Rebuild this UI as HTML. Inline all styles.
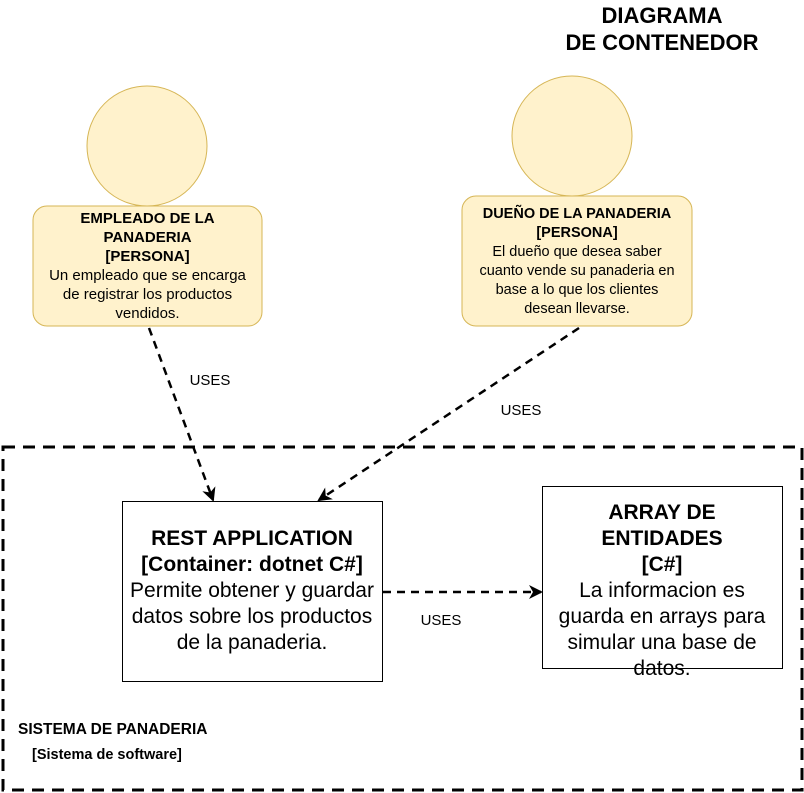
<!DOCTYPE html>
<html><head><meta charset="utf-8"><style>
body{margin:0;width:804px;height:793px;background:#fff;overflow:hidden;position:relative;font-family:"Liberation Sans",Arial,sans-serif}
.t{position:absolute;text-align:center;color:#000;white-space:nowrap}
</style></head><body>
<svg width="804" height="793" style="position:absolute;left:0;top:0">
<defs><marker id="a" markerWidth="14" markerHeight="14" refX="12" refY="7" orient="auto" markerUnits="userSpaceOnUse"><path d="M0,0 L14,7 L0,14 L4,7 Z" fill="#000"/></marker></defs>
<circle cx="147" cy="146" r="60" fill="#fff2cc" stroke="#d6b656"/>
<rect x="33" y="206" width="229" height="120" rx="14" fill="#fff2cc" stroke="#d6b656"/>
<circle cx="572" cy="136" r="60" fill="#fff2cc" stroke="#d6b656"/>
<rect x="462" y="196" width="230" height="130" rx="14" fill="#fff2cc" stroke="#d6b656"/>
<rect x="3" y="447" width="799" height="343" fill="none" stroke="#000" stroke-width="3" stroke-dasharray="12 8"/>
<rect x="122.5" y="501.5" width="260" height="180" fill="#fff" stroke="#000"/>
<rect x="542.5" y="486.5" width="240" height="182" fill="#fff" stroke="#000"/>
<g stroke="#000" stroke-width="2.5" stroke-dasharray="8 6" fill="none">
<line x1="149" y1="328" x2="213" y2="500" marker-end="url(#a)"/>
<line x1="579" y1="328" x2="319" y2="500" marker-end="url(#a)"/>
<line x1="383" y1="592" x2="541" y2="592" marker-end="url(#a)"/>
</g>
</svg>
<div class="t" style="left:560px;top:2px;width:204px;font-weight:bold;font-size:22px;line-height:27px">DIAGRAMA<br>DE CONTENEDOR</div>
<div class="t" style="left:33px;top:209px;width:229px;font-size:15px;line-height:19px"><b>EMPLEADO DE LA<br>PANADERIA<br>[PERSONA]</b><br>Un empleado que se encarga<br>de registrar los productos<br>vendidos.</div>
<div class="t" style="left:462px;top:205px;width:230px;font-size:14.5px;line-height:19px"><b>DUEÑO DE LA PANADERIA<br>[PERSONA]</b><br>El dueño que desea saber<br>cuanto vende su panaderia en<br>base a lo que los clientes<br>desean llevarse.</div>
<div class="t" style="left:122px;top:526px;width:260px;font-size:21px;line-height:26px"><b>REST APPLICATION<br>[Container: dotnet C#]</b><br>Permite obtener y guardar<br>datos sobre los productos<br>de la panaderia.</div>
<div class="t" style="left:542px;top:500px;width:240px;font-size:21px;line-height:26px"><b>ARRAY DE<br>ENTIDADES<br>[C#]</b><br>La informacion es<br>guarda en arrays para<br>simular una base de<br>datos.</div>
<div class="t" style="left:180px;top:372px;width:60px;font-size:15px">USES</div>
<div class="t" style="left:491px;top:402px;width:60px;font-size:15px">USES</div>
<div class="t" style="left:411px;top:612px;width:60px;font-size:15px">USES</div>
<div class="t" style="left:18px;top:721px;font-size:15.5px;font-weight:bold;text-align:left">SISTEMA DE PANADERIA</div>
<div class="t" style="left:32px;top:747px;font-size:14.5px;font-weight:bold;text-align:left">[Sistema de software]</div>
</body></html>
